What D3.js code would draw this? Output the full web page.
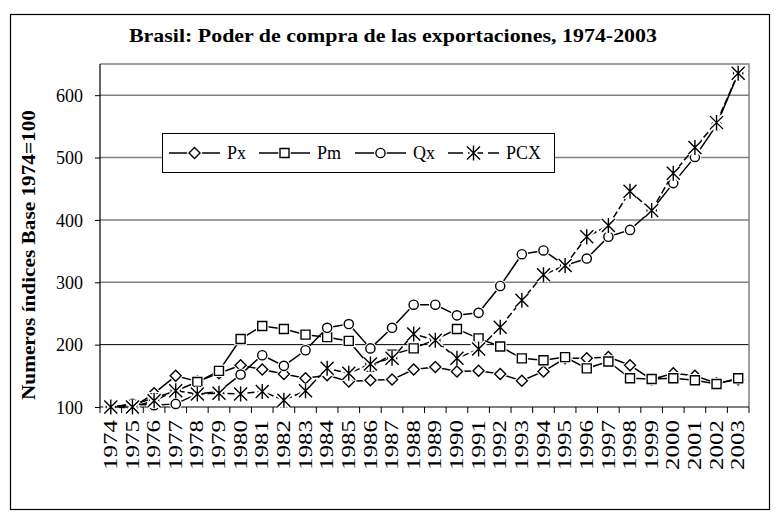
<!DOCTYPE html>
<html lang="es">
<head>
<meta charset="utf-8">
<title>Brasil: Poder de compra de las exportaciones</title>
<script src="https://d3js.org/d3.v7.min.js"></script>
<style>
body { margin: 0; background: #fff; }
text { font-family: "Liberation Serif", "Times New Roman", serif; fill: #000; }
</style>
</head>
<body>
<div id="chart"></div>
<script>
// datos (indices, 1974 = 100)
const years = d3.range(1974, 2004).map(String);
const px  = [100, 99, 122, 150, 141, 154, 167, 160, 153, 146, 151, 141, 143, 144, 160, 164, 157, 158, 153, 142, 157, 178, 178, 180, 167, 144, 154, 150, 138, 144];
const pm  = [100, 104, 114, 126, 140, 158, 209, 230, 225, 216, 212, 206, 165, 184, 194, 208, 225, 210, 197, 178, 175, 180, 162, 173, 146, 145, 146, 143, 137, 146];
const qx  = [100, 105, 103, 105, 121, 125, 152, 183, 166, 191, 227, 233, 194, 227, 264, 264, 247, 251, 294, 345, 351, 327, 338, 373, 384, 415, 459, 501, 552, 635];
const pcx = [100, 100, 110, 126, 121, 122, 121, 125, 111, 126, 162, 154, 169, 178, 217, 207, 178, 193, 228, 271, 312, 327, 373, 391, 446, 415, 475, 516, 556, 635];
const yTicks = [100, 200, 300, 400, 500, 600];
const title = "Brasil: Poder de compra de las exportaciones, 1974-2003";
const yTitle = "Numeros índices Base 1974=100";

const series = [
  {name: "Px",  values: px,  marker: "diamond", dash: null},
  {name: "Pm",  values: pm,  marker: "square",  dash: null},
  {name: "Qx",  values: qx,  marker: "circle",  dash: null},
  {name: "PCX", values: pcx, marker: "star",    dash: "7,3"}
];

const W = 777, H = 516;
const plot = {left: 100, right: 749, top: 64, bottom: 407};

const svg = d3.select("#chart").append("svg")
    .attr("width", W)
    .attr("height", H);

// marco exterior
svg.append("rect")
    .attr("x", 10.5).attr("y", 14.5)
    .attr("width", 759).attr("height", 495)
    .attr("fill", "#fff")
    .attr("stroke", "#000")
    .attr("stroke-width", 1.2);

svg.append("text")
    .attr("x", 393).attr("y", 42)
    .attr("text-anchor", "middle")
    .attr("font-size", 19)
    .attr("font-weight", "bold")
    .attr("textLength", 528)
    .attr("lengthAdjust", "spacingAndGlyphs")
    .text(title);

const x = d3.scaleBand()
    .domain(years)
    .range([plot.left, plot.right])
    .padding(0);
const y = d3.scaleLinear()
    .domain([100, 650])
    .range([plot.bottom, plot.top]);
const cx = d => x(d) + x.bandwidth() / 2;

// lineas de division
svg.append("g")
    .selectAll("line")
    .data(yTicks.filter(d => d > 100))
    .join("line")
    .attr("x1", plot.left).attr("x2", plot.right)
    .attr("y1", d => y(d)).attr("y2", d => y(d))
    .attr("stroke", d => d == 200 ? "#000" : "#808080")
    .attr("stroke-width", d => d == 200 ? 1 : 1.5);

// borde del area de trazado (arriba y derecha)
svg.append("path")
    .attr("d", `M${plot.left},${plot.top}H${plot.right}V${plot.bottom}`)
    .attr("fill", "none")
    .attr("stroke", "#808080")
    .attr("stroke-width", 1.5);

// eje y
const yAxis = svg.append("g")
    .attr("transform", `translate(${plot.left},0)`)
    .call(d3.axisLeft(y).tickValues(yTicks).tickSize(5).tickPadding(12));
yAxis.select(".domain").attr("stroke", "#000").attr("stroke-width", 1.2)
    .attr("d", `M0,${plot.top}V${plot.bottom}`);
yAxis.selectAll(".tick line").attr("stroke", "#000");
yAxis.selectAll(".tick text")
    .attr("font-family", "Liberation Serif")
    .attr("font-size", 18)
    .attr("dy", "0.34em");

// eje x
const xAxis = svg.append("g")
    .attr("transform", `translate(0,${plot.bottom})`)
    .call(d3.axisBottom(x).tickSize(0).tickPadding(0));
xAxis.select(".domain").attr("stroke", "#000").attr("stroke-width", 1.2)
    .attr("d", `M${plot.left},0H${plot.right}`);
xAxis.selectAll(".tick text")
    .attr("font-family", "Liberation Serif")
    .attr("font-size", 18)
    .attr("transform", "rotate(-90)")
    .attr("text-anchor", "end")
    .attr("x", -13)
    .attr("y", 0)
    .attr("dy", "0.34em")
    .attr("textLength", 50)
    .attr("lengthAdjust", "spacingAndGlyphs");
// marcas entre categorias
xAxis.append("g")
    .selectAll("line")
    .data(years.concat(["end"]))
    .join("line")
    .attr("x1", d => d == "end" ? plot.right : x(d))
    .attr("x2", d => d == "end" ? plot.right : x(d))
    .attr("y1", 0).attr("y2", 6)
    .attr("stroke", "#000");

svg.append("text")
    .attr("transform", "translate(35,255) rotate(-90)")
    .attr("text-anchor", "middle")
    .attr("font-size", 18)
    .attr("font-weight", "bold")
    .attr("textLength", 290)
    .attr("lengthAdjust", "spacingAndGlyphs")
    .text(yTitle);

function markerPath(type) {
  if (type == "diamond") return "M0,-5.5L5.5,0L0,5.5L-5.5,0Z";
  if (type == "square") return "M-4.5,-4.5H4.5V4.5H-4.5Z";
  if (type == "circle") return "M4.6,0A4.6,4.6 0 1 1 -4.6,0A4.6,4.6 0 1 1 4.6,0Z";
  return "M0,-7.5V7.5M-6.5,-6.5L6.5,6.5M-6.5,6.5L6.5,-6.5";
}

function drawMarker(g, type) {
  const p = markerPath(type);
  g.append("path").attr("d", p)
      .attr("fill", type == "star" ? "none" : "#fff")
      .attr("stroke", "#fff")
      .attr("stroke-width", type == "star" ? 5 : 3.5);
  g.append("path").attr("d", p)
      .attr("fill", type == "star" ? "none" : "#fff")
      .attr("stroke", "#000")
      .attr("stroke-width", 1.4);
}

const line = d3.line()
    .x((d, i) => cx(years[i]))
    .y(d => y(d));

series.forEach(s => {
  const g = svg.append("g");
  g.append("path")
      .attr("d", line(s.values))
      .attr("fill", "none")
      .attr("stroke", "#000")
      .attr("stroke-width", 1.5)
      .attr("stroke-dasharray", s.dash);
  g.selectAll("g.m")
      .data(s.values)
      .join("g")
      .attr("class", "m")
      .attr("transform", (d, i) => `translate(${cx(years[i])},${y(d)})`)
      .each(function() { drawMarker(d3.select(this), s.marker); });
});

// leyenda
const legend = svg.append("g");
legend.append("rect")
    .attr("x", 162.5).attr("y", 133.5)
    .attr("width", 392).attr("height", 39)
    .attr("fill", "#fff")
    .attr("stroke", "#000")
    .attr("stroke-width", 1);
const legendX = [169, 259, 355, 448];
series.forEach((s, i) => {
  const g = legend.append("g").attr("transform", `translate(${legendX[i]},153)`);
  g.append("line")
      .attr("x1", 0).attr("x2", 51)
      .attr("stroke", "#000")
      .attr("stroke-width", 1.5)
      .attr("stroke-dasharray", s.dash ? "15,5" : null);
  const m = g.append("g").attr("transform", "translate(25.5,0)");
  drawMarker(m, s.marker);
  g.append("text")
      .attr("x", 58)
      .attr("dy", "0.34em")
      .attr("font-size", 18)
      .text(s.name);
});
</script>
</body>
</html>
